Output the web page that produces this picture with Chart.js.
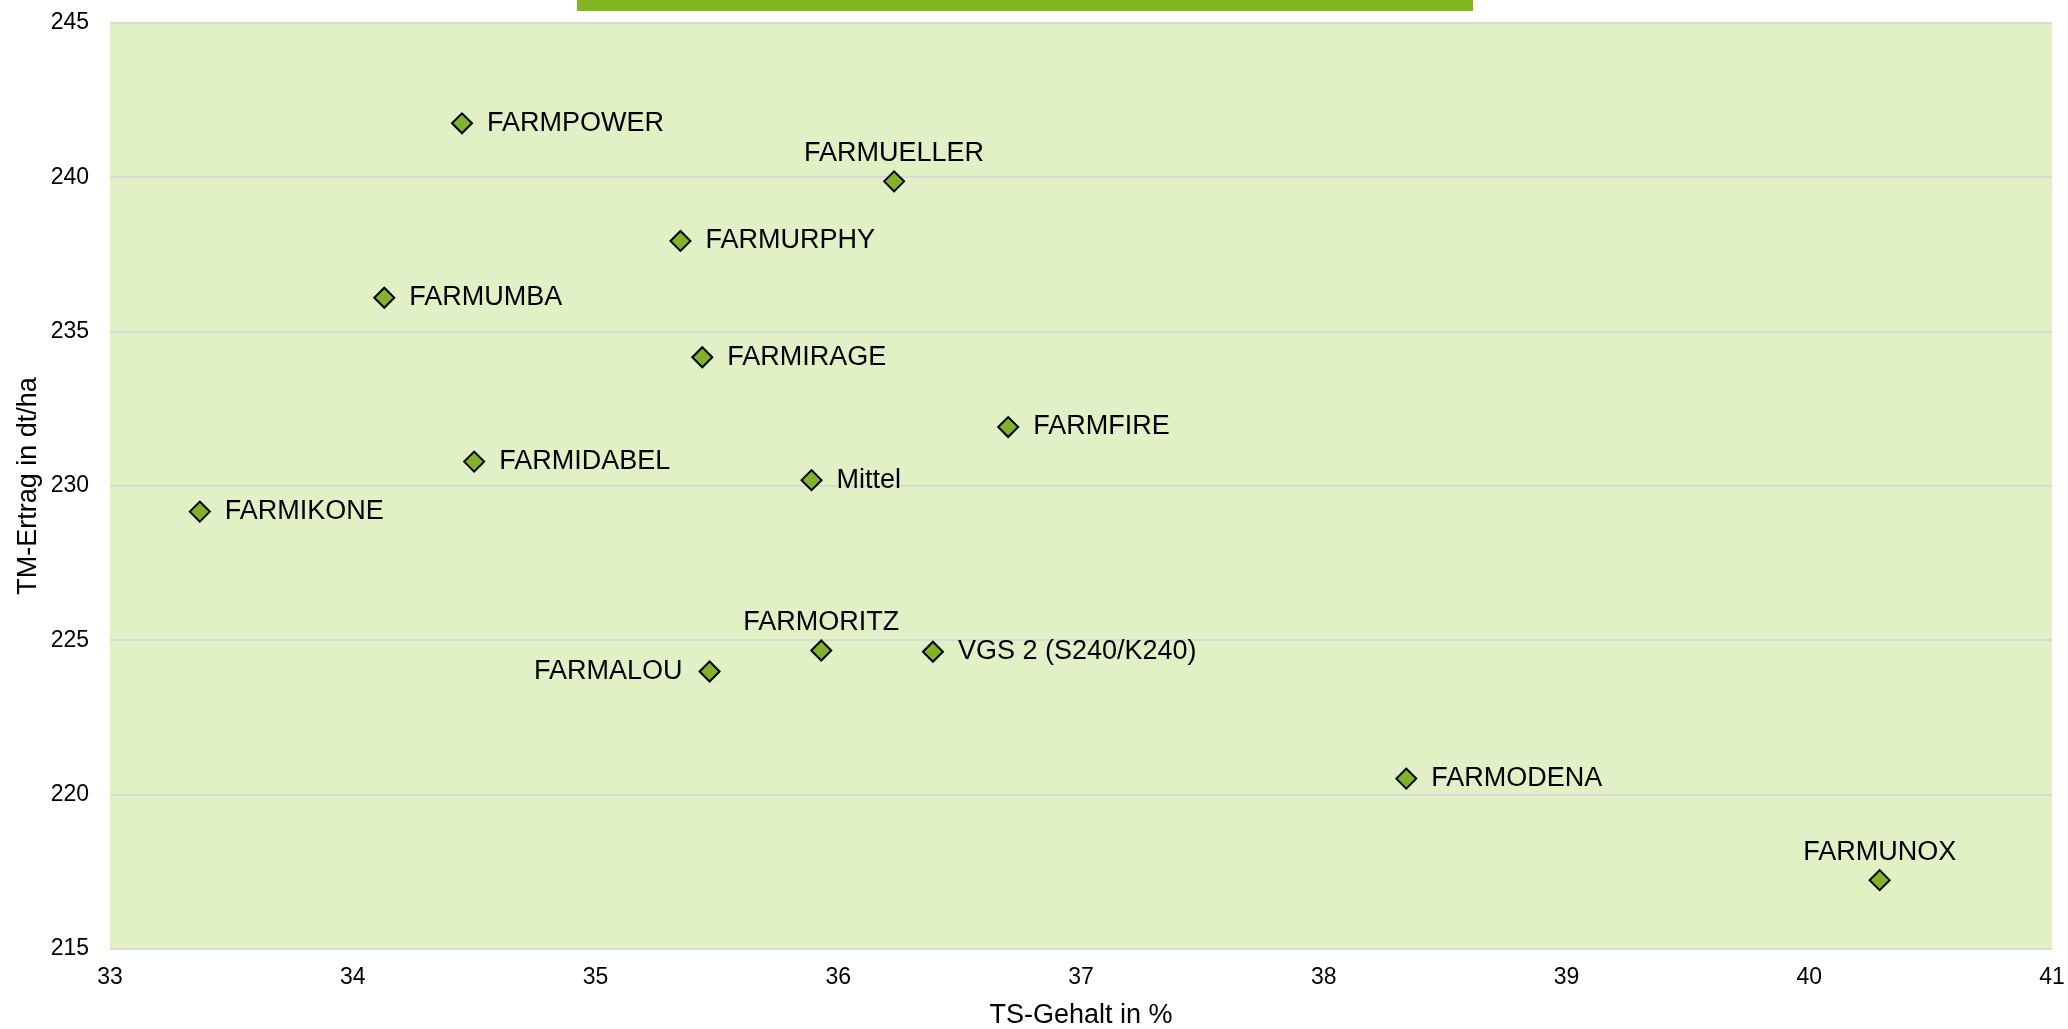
<!DOCTYPE html>
<html>
<head>
<meta charset="utf-8">
<script src="https://cdn.jsdelivr.net/npm/chart.js@4/dist/chart.umd.min.js"></script>
<style>
  html, body { margin: 0; padding: 0; background: #fff; }
  #wrap { width: 2068px; height: 1029px; }
</style>
</head>
<body>
<div id="wrap"><canvas id="chart" width="2068" height="1029"></canvas></div>
<script>
// Sorten and their values (TS-Gehalt in %, TM-Ertrag in dt/ha)
const sorten = ['FARMPOWER', 'FARMUELLER', 'FARMURPHY', 'FARMUMBA', 'FARMIRAGE', 'FARMFIRE', 'FARMIDABEL',
    'Mittel', 'FARMIKONE', 'FARMORITZ', 'VGS 2 (S240/K240)', 'FARMALOU', 'FARMODENA', 'FARMUNOX'];
const tsGehalt = [34.45, 36.23, 35.35, 34.13, 35.44, 36.70, 34.50, 35.89, 33.37, 35.93, 36.39, 35.47, 38.34, 40.29];
const tmErtrag = [241.75, 239.87, 237.94, 236.10, 234.17, 231.91, 230.79, 230.19, 229.17, 224.67, 224.63, 223.99, 220.52, 217.23];

const xTitle = 'TS-Gehalt in %';
const yTitle = 'TM-Ertrag in dt/ha';

// labels that sit above or left of their marker (rest go right)
const labelsAbove = ['FARMUELLER', 'FARMORITZ', 'FARMUNOX'];
const labelsLeft = ['FARMALOU'];

const FONT = '"Liberation Sans", Arial, sans-serif';

// light green plot background
const plotBackground = {
    id: 'plotBackground',
    beforeDraw(chart) {
        const { ctx, chartArea: a } = chart;
        ctx.save();
        ctx.fillStyle = '#E2F0C6';
        ctx.fillRect(a.left, a.top, a.right - a.left, a.bottom - a.top);
        ctx.restore();
    }
};

// green strip on top edge (cut off title box)
const topStrip = {
    id: 'topStrip',
    afterDraw(chart) {
        const ctx = chart.ctx;
        ctx.save();
        ctx.fillStyle = '#84B522';
        ctx.fillRect(577, 0, 896, 11);
        ctx.restore();
    }
};

// point labels
const pointLabels = {
    id: 'pointLabels',
    afterDatasetsDraw(chart) {
        const ctx = chart.ctx;
        const meta = chart.getDatasetMeta(0);
        ctx.save();
        ctx.font = '27px ' + FONT;
        ctx.fillStyle = '#000';
        meta.data.forEach((pt, i) => {
            const name = sorten[i];
            if (labelsAbove.includes(name)) {
                ctx.textAlign = 'center';
                ctx.textBaseline = 'middle';
                ctx.fillText(name, pt.x, pt.y - 28);
            } else if (labelsLeft.includes(name)) {
                ctx.textAlign = 'right';
                ctx.textBaseline = 'middle';
                ctx.fillText(name, pt.x - 27, pt.y);
            } else {
                ctx.textAlign = 'left';
                ctx.textBaseline = 'middle';
                ctx.fillText(name, pt.x + 25, pt.y);
            }
        });
        ctx.restore();
    }
};

const ctx = document.getElementById('chart').getContext('2d');
new Chart(ctx, {
    type: 'scatter',
    data: {
        datasets: [{
            label: 'Sorten',
            data: tsGehalt.map((x, i) => ({ x: x, y: tmErtrag[i] })),
            pointStyle: 'rectRot',
            pointRadius: 10,
            pointHoverRadius: 10,
            pointBackgroundColor: '#80B32A',
            pointBorderColor: '#000',
            pointBorderWidth: 2
        }]
    },
    options: {
        responsive: false,
        animation: false,
        layout: { padding: { top: 23, right: 16, bottom: 0, left: 12 } },
        plugins: {
            legend: { display: false },
            tooltip: { enabled: false },
            title: { display: false }
        },
        scales: {
            x: {
                type: 'linear',
                min: 33,
                max: 41,
                afterFit(scale) {
                    scale.height = 80;
                    scale.paddingLeft = 0;
                    scale.paddingRight = 0;
                },
                ticks: { stepSize: 1, color: '#000', padding: 15, font: { family: FONT, size: 23 } },
                grid: { display: false, drawTicks: false },
                border: { display: false },
                title: { display: true, text: xTitle, color: '#000', font: { family: FONT, size: 27, lineHeight: 1 }, padding: { top: 0, bottom: 0 } }
            },
            y: {
                min: 215,
                max: 245,
                afterFit(scale) {
                    scale.width = 98;
                    scale.paddingTop = 0;
                    scale.paddingBottom = 0;
                },
                ticks: { stepSize: 5, color: '#000', padding: 21, font: { family: FONT, size: 23 } },
                grid: { color: '#D9D9D9', lineWidth: 2, drawTicks: false },
                border: { display: false },
                title: { display: true, text: yTitle, color: '#000', font: { family: FONT, size: 27 }, padding: { top: 0, bottom: 0 } }
            }
        }
    },
    plugins: [plotBackground, topStrip, pointLabels]
});
</script>
</body>
</html>
